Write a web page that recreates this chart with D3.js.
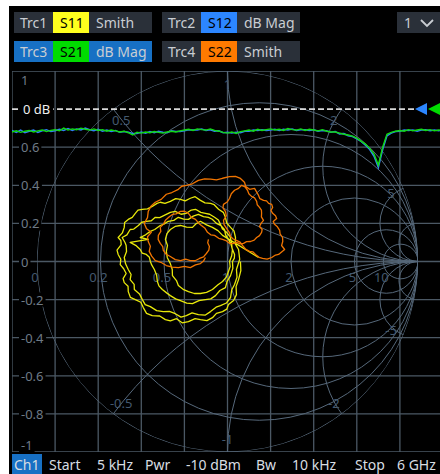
<!DOCTYPE html>
<html><head><meta charset="utf-8">
<script src="https://cdn.jsdelivr.net/npm/d3@7"></script>
<style>
html,body{margin:0;padding:0;background:#fff;overflow:hidden}
svg{display:block}
text{font-family:"Noto Sans",sans-serif}
</style></head><body>
<svg id="c" width="440" height="474"></svg>
<script>
// ---------------- DATA ----------------
const traceNames = ["Trc1", "Trc2", "Trc3", "Trc4"];
const traceParams = ["S11", "S12", "S21", "S22"];
const traceFormats = ["Smith", "dB Mag", "dB Mag", "Smith"];
const channelLabel = "Ch1";
const channelSelector = "1";
const sweepInfo = ["Start", "5 kHz", "Pwr", "-10 dBm", "Bw", "10 kHz", "Stop", "6 GHz"];
const freqStartHz = 5e3, freqStopHz = 6e9;

const gridValues = [1, 0.8, 0.6, 0.4, 0.2, 0, -0.2, -0.4, -0.6, -0.8, -1];
const gridLabels = ["1", "0 dB", "0.6", "0.4", "0.2", "0", "-0.2", "-0.4", "-0.6", "-0.8", "-1"];
const refLevelDb = 0;
const dbDomain = [-9, 1];

const smithResistance = [0, 0.2, 0.5, 1, 2, 5, 10];
const smithResistanceLabels = ["0", "0.2", "0.5", "1", "2", "5", "10"];
const smithReactance = [0.5, 1, 2, 5, 10, -0.5, -1, -2, -5, -10];
const smithReactanceLabeled = [0.5, 1, 2, 5, -5, -2, -1, -0.5];

// S21 / S12 magnitude in dB, 101 points from 5 kHz to 6 GHz
const s21dB = [-0.60,-0.57,-0.61,-0.58,-0.56,-0.60,-0.57,-0.55,-0.59,-0.56,
  -0.54,-0.57,-0.50,-0.55,-0.52,-0.54,-0.50,-0.53,-0.55,-0.52,
  -0.56,-0.54,-0.58,-0.55,-0.57,-0.60,-0.58,-0.62,-0.68,-0.61,
  -0.63,-0.60,-0.62,-0.59,-0.61,-0.63,-0.60,-0.58,-0.60,-0.57,
  -0.55,-0.53,-0.56,-0.52,-0.54,-0.55,-0.52,-0.56,-0.58,-0.61,
  -0.63,-0.60,-0.64,-0.59,-0.57,-0.55,-0.58,-0.53,-0.56,-0.54,
  -0.52,-0.55,-0.53,-0.56,-0.51,-0.54,-0.55,-0.52,-0.56,-0.53,
  -0.55,-0.57,-0.54,-0.58,-0.60,-0.60,-0.63,-0.66,-0.68,-0.71,
  -0.76,-0.84,-0.92,-1.03,-1.18,-1.47,-1.00,-0.66,-0.61,-0.58,
  -0.56,-0.58,-0.54,-0.57,-0.55,-0.53,-0.56,-0.54,-0.57,-0.55,-0.56];
const s12dB = [-0.56,-0.61,-0.55,-0.62,-0.58,-0.55,-0.61,-0.57,-0.54,-0.59,
  -0.57,-0.53,-0.56,-0.51,-0.56,-0.52,-0.55,-0.50,-0.54,-0.57,
  -0.53,-0.58,-0.55,-0.59,-0.56,-0.61,-0.59,-0.61,-0.64,-0.64,
  -0.60,-0.63,-0.59,-0.62,-0.58,-0.61,-0.62,-0.57,-0.59,-0.59,
  -0.57,-0.54,-0.55,-0.55,-0.52,-0.56,-0.54,-0.58,-0.57,-0.62,
  -0.61,-0.63,-0.61,-0.62,-0.58,-0.58,-0.55,-0.56,-0.54,-0.56,
  -0.55,-0.53,-0.56,-0.53,-0.55,-0.52,-0.56,-0.54,-0.54,-0.56,
  -0.54,-0.58,-0.56,-0.57,-0.61,-0.59,-0.65,-0.64,-0.70,-0.72,
  -0.78,-0.85,-0.95,-1.06,-1.24,-1.53,-1.06,-0.70,-0.63,-0.59,
  -0.58,-0.55,-0.56,-0.55,-0.58,-0.55,-0.54,-0.57,-0.55,-0.57,-0.54];

// S11 reflection coefficient [re, im]
const s11Gamma = [
  [0.068,0],[0.070,-0.048],[0.058,-0.095],[0.045,-0.132],[0.047,-0.174],[0.032,-0.205],[0.005,-0.226],[-0.004,-0.250],[-0.026,-0.263],[-0.058,-0.272],[-0.079,-0.295],[-0.108,-0.310],[-0.142,-0.305],[-0.170,-0.300],[-0.205,-0.316],[-0.238,-0.322],[-0.268,-0.300],[-0.300,-0.312],[-0.326,-0.305],[-0.356,-0.286],[-0.395,-0.284],[-0.425,-0.272],[-0.442,-0.242],[-0.455,-0.214],[-0.484,-0.200],[-0.510,-0.188],[-0.521,-0.158],[-0.522,-0.130],[-0.542,-0.111],[-0.548,-0.090],[-0.532,-0.063],[-0.545,-0.038],[-0.563,-0.016],[-0.560,0.012],[-0.574,0.037],[-0.580,0.060],[-0.558,0.089],[-0.560,0.110],[-0.574,0.126],[-0.552,0.150],[-0.542,0.179],[-0.540,0.205],[-0.521,0.221],[-0.500,0.232],[-0.484,0.253],[-0.470,0.270],[-0.447,0.274],[-0.420,0.276],[-0.395,0.289],[-0.370,0.305],[-0.353,0.311],[-0.328,0.305],[-0.300,0.316],[-0.272,0.330],[-0.247,0.326],[-0.222,0.318],[-0.195,0.332],[-0.170,0.340],[-0.142,0.321],[-0.118,0.308],[-0.089,0.305],[-0.070,0.298],[-0.047,0.274],[-0.022,0.258],[-0.011,0.232],[-0.004,0.202],[0.016,0.179],[0.034,0.160],[0.042,0.126],[0.040,0.094],[0.058,0.063],[0.064,0.012],
  [0.047,-0.042],[0.050,-0.082],[0.037,-0.121],[0.022,-0.150],[0.016,-0.189],[-0.006,-0.218],[-0.037,-0.232],[-0.060,-0.240],[-0.089,-0.263],[-0.118,-0.282],[-0.153,-0.279],[-0.186,-0.270],[-0.216,-0.284],[-0.244,-0.292],[-0.274,-0.274],[-0.305,-0.262],[-0.337,-0.263],[-0.372,-0.258],[-0.405,-0.237],[-0.432,-0.226],[-0.447,-0.200],[-0.462,-0.170],[-0.489,-0.147],[-0.490,-0.120],[-0.511,-0.095],[-0.506,-0.068],[-0.521,-0.042],[-0.535,-0.012],[-0.542,0.021],[-0.530,0.052],[-0.532,0.084],[-0.538,0.100],[-0.553,0.126],[-0.528,0.140],[-0.511,0.168],[-0.492,0.170],[-0.468,0.189],[-0.450,0.206],[-0.426,0.211],[-0.400,0.214],[-0.379,0.232],[-0.356,0.230],[-0.332,0.242],[-0.300,0.258],[-0.274,0.263],[-0.244,0.248],[-0.216,0.253],[-0.190,0.270],[-0.168,0.274],[-0.140,0.258],[-0.116,0.253],[-0.094,0.248],[-0.068,0.232],[-0.048,0.218],[-0.037,0.195],[-0.026,0.170],[-0.005,0.153],[0.014,0.130],[0.021,0.100],[0.024,0.070],[0.037,0.037],[0.036,0.018],
  [0.026,0],[0.028,-0.036],[0.016,-0.074],[-0.002,-0.104],[-0.011,-0.137],[-0.040,-0.152],[-0.063,-0.179],[-0.088,-0.196],[-0.116,-0.200],[-0.150,-0.205],[-0.184,-0.221],[-0.214,-0.218],[-0.247,-0.205],[-0.272,-0.196],[-0.300,-0.179],[-0.318,-0.166],[-0.342,-0.147],[-0.360,-0.128],[-0.368,-0.105],[-0.372,-0.072],[-0.384,-0.042],[-0.398,-0.018],[-0.405,0],[-0.410,0.022],[-0.426,0.037],[-0.448,0.044],[-0.458,0.063],[-0.482,0.085],[-0.511,0.100],[-0.416,0.116],[-0.458,0.126],[-0.430,0.140],[-0.405,0.158],[-0.382,0.168],[-0.353,0.189],[-0.334,0.196],[-0.311,0.211],[-0.282,0.216],[-0.258,0.232],[-0.230,0.222],[-0.205,0.221],[-0.180,0.238],[-0.153,0.247],[-0.126,0.236],[-0.100,0.232],[-0.080,0.222],[-0.058,0.200],[-0.034,0.188],[-0.016,0.168],[-0.010,0.140],[0.005,0.116],[0.018,0.092],[0.026,0.063],[0.022,0.030],
  [0.011,0],[0.014,-0.026],[0.005,-0.053],[-0.006,-0.082],[-0.026,-0.105],[-0.050,-0.122],[-0.079,-0.147],[-0.110,-0.162],[-0.142,-0.168],[-0.174,-0.168],[-0.205,-0.158],[-0.230,-0.148],[-0.258,-0.126],[-0.268,-0.100],[-0.289,-0.074],[-0.290,-0.042],[-0.300,-0.011],[-0.316,0.020],[-0.321,0.053],[-0.315,0.084],[-0.326,0.116],[-0.318,0.146],[-0.300,0.168],[-0.275,0.184],[-0.247,0.189],[-0.215,0.180],[-0.184,0.179],[-0.165,0.198],[-0.142,0.211],[-0.110,0.192],[-0.079,0.179],[-0.050,0.162],[-0.026,0.137],[0.163,0.021]
];
// S22 reflection coefficient [re, im]
const s22Gamma = [
  [-0.116,0.021],[-0.126,0.002],[-0.142,-0.011],[-0.168,-0.018],[-0.195,-0.032],[-0.226,-0.026],[-0.258,-0.032],[-0.290,-0.030],[-0.321,-0.021],[-0.350,-0.004],[-0.379,0.005],[-0.398,0.028],[-0.411,0.053],[-0.405,0.080],[-0.416,0.105],[-0.420,0.130],[-0.400,0.153],[-0.425,0.172],[-0.437,0.200],[-0.420,0.230],[-0.416,0.263],[-0.402,0.290],[-0.379,0.311],[-0.348,0.326],[-0.321,0.353],[-0.292,0.362],[-0.258,0.379],[-0.240,0.395],[-0.216,0.400],[-0.184,0.408],[-0.153,0.426],[-0.120,0.434],[-0.089,0.432],[-0.058,0.428],[-0.026,0.437],[0.010,0.446],[0.042,0.447],[0.068,0.436],[0.089,0.416],[0.096,0.394],[0.116,0.379],[0.142,0.384],[0.163,0.347],[0.170,0.330],[0.189,0.321],[0.205,0.318],[0.216,0.305],[0.232,0.300],[0.237,0.284],[0.228,0.268],[0.237,0.253],[0.252,0.240],[0.258,0.226],[0.240,0.210],[0.247,0.195],[0.262,0.182],[0.274,0.163],[0.276,0.145],[0.289,0.126],[0.290,0.105],[0.284,0.084],[0.300,0.063],[0.268,0.037],[0.252,0.034],[0.232,0.021],[0.208,0.012],[0.184,0.016],[0.166,0.022],[0.147,0.037],[0.134,0.050],[0.116,0.053],[0.096,0.064],[0.079,0.084],[0.066,0.102],[0.047,0.111],[0.030,0.118],[0.016,0.132],[0.010,0.152],[-0.005,0.174],[-0.018,0.194],[-0.021,0.216],[-0.006,0.240],[-0.011,0.263],[-0.024,0.282],[-0.021,0.300],[-0.002,0.312],[0.011,0.332],[0.020,0.356],[0.037,0.374],[0.058,0.384],[0.074,0.400],[0.092,0.392],[0.105,0.374],[0.112,0.356],[0.126,0.342],[0.142,0.334],[0.153,0.316],[0.156,0.298],[0.168,0.284],[0.178,0.270],[0.179,0.253],[0.178,0.234],[0.189,0.216],[0.176,0.200],[0.168,0.184],[0.182,0.168],[0.179,0.153],[0.168,0.136],[0.153,0.126],[0.140,0.112],[0.121,0.105],[0.100,0.104],[0.084,0.095],[0.066,0.092],[0.047,0.100],[0.028,0.094],[0.011,0.095],[-0.008,0.110],[-0.026,0.116],[-0.046,0.122],[-0.068,0.137],[-0.088,0.140],[-0.105,0.153],[-0.118,0.174],[-0.137,0.189],[-0.150,0.200],[-0.168,0.221],[-0.190,0.232],[-0.205,0.253],[-0.226,0.264],[-0.247,0.263],[-0.270,0.250],[-0.289,0.247],[-0.304,0.236],[-0.326,0.216],[-0.336,0.196],[-0.353,0.179],[-0.350,0.158],[-0.363,0.137],[-0.364,0.116],[-0.353,0.095],[-0.340,0.078],[-0.337,0.058],[-0.322,0.038],[-0.300,0.026],[-0.274,0.010],[-0.247,0.005],[-0.220,0.012],[-0.195,0.005],[-0.170,0.004],[-0.147,0.016],[-0.126,0.024],[-0.111,0.042],[-0.098,0.060],[-0.095,0.079],[-0.104,0.098],[-0.100,0.116]
];

// ---------------- STYLE / LAYOUT ----------------
const colors = { S11: "#ffff1e", S12: "#2c86ff", S21: "#00dc00", S22: "#ff7a00" };
const traceLine = { S11: "#e8e80a", S12: "#2f7ff5", S21: "#12d812", S22: "#f07400" };
const plot = { left: 12, right: 443, top: 71, bottom: 452 };
const gridColor = "#4b5864", smithColor = "#56687a";

const svg = d3.select("#c");
svg.append("rect").attr("x", 9).attr("y", 6).attr("width", 440).attr("height", 474).attr("fill", "#000");

// ---- header tags
const tagCols = [14, 162], tagRows = [12, 41], tagW = [39, 36, 63], tagH = 21;
traceNames.forEach((name, i) => {
  const x0 = tagCols[i % 2], y0 = tagRows[Math.floor(i / 2)];
  const active = i === 2;
  const bg = active ? "#1770c4" : "#2a3039";
  const g = svg.append("g");
  g.append("rect").attr("x", x0).attr("y", y0).attr("width", tagW[0]).attr("height", tagH).attr("fill", bg);
  g.append("rect").attr("x", x0 + tagW[0]).attr("y", y0).attr("width", tagW[1]).attr("height", tagH).attr("fill", colors[traceParams[i]]);
  g.append("rect").attr("x", x0 + tagW[0] + tagW[1]).attr("y", y0).attr("width", tagW[2]).attr("height", tagH).attr("fill", bg);
  g.append("text").attr("x", x0 + 6).attr("y", y0 + 16).attr("font-size", 14).attr("fill", "#c9cdd2").text(name);
  g.append("text").attr("x", x0 + tagW[0] + 7).attr("y", y0 + 16).attr("font-size", 14).attr("fill", "#000").text(traceParams[i]);
  g.append("text").attr("x", x0 + tagW[0] + tagW[1] + 7).attr("y", y0 + 16).attr("font-size", 14).attr("fill", "#c9cdd2").text(traceFormats[i]);
});
svg.append("rect").attr("x", 397).attr("y", 12).attr("width", 50).attr("height", tagH).attr("fill", "#2a3039");
svg.append("text").attr("x", 404).attr("y", 28).attr("font-size", 14).attr("fill", "#c9cdd2").text(channelSelector);
svg.append("path").attr("d", "M421,20 L427,26 L433,20").attr("fill", "none").attr("stroke", "#c9cdd2").attr("stroke-width", 1.8);

// ---- scales
const yGrid = d3.scaleLinear().domain([-1, 1]).range([plot.bottom, plot.top]);
const xFreq = d3.scaleLinear().domain([freqStartHz, freqStopHz]).range([plot.left, plot.right]);
const yDb = d3.scaleLinear().domain(dbDomain).range([plot.bottom, plot.top]);
const R = (plot.bottom - plot.top) / 2, cx = (plot.left + plot.right) / 2, cy = (plot.top + plot.bottom) / 2;
const gx = d3.scaleLinear().domain([-1, 1]).range([cx - R, cx + R]);
const gy = d3.scaleLinear().domain([-1, 1]).range([cy + R, cy - R]);

const defs = svg.append("defs");
defs.append("clipPath").attr("id", "plotClip").append("rect")
  .attr("x", plot.left).attr("y", plot.top).attr("width", plot.right - plot.left).attr("height", plot.bottom - plot.top);
defs.append("clipPath").attr("id", "unitClip").append("circle")
  .attr("cx", gx(0)).attr("cy", gy(0)).attr("r", gx(1) - gx(0));

const P = svg.append("g").attr("clip-path", "url(#plotClip)");

// ---- rectangular grid
const fTicks = d3.range(11).map(k => freqStartHz + k * (freqStopHz - freqStartHz) / 10);
P.selectAll("line.v").data(fTicks).join("line")
  .attr("x1", d => xFreq(d)).attr("x2", d => xFreq(d)).attr("y1", plot.top).attr("y2", plot.bottom)
  .attr("stroke", gridColor).attr("stroke-width", 1.3);
P.selectAll("line.h").data(gridValues.filter(v => v !== 0.8)).join("line")
  .attr("x1", plot.left).attr("x2", plot.right).attr("y1", d => yGrid(d)).attr("y2", d => yGrid(d))
  .attr("stroke", gridColor).attr("stroke-width", 1.3);

// ---- smith grid
const S = P.append("g").attr("clip-path", "url(#unitClip)");
S.selectAll("circle.r").data(smithResistance).join("circle")
  .attr("cx", r => gx(r / (1 + r))).attr("cy", gy(0))
  .attr("r", r => gx(1 / (1 + r)) - gx(0))
  .attr("fill", "none").attr("stroke", smithColor).attr("stroke-width", 1);
S.selectAll("circle.x").data(smithReactance).join("circle")
  .attr("cx", gx(1)).attr("cy", x => gy(1 / x))
  .attr("r", x => gx(1 / Math.abs(x)) - gx(0))
  .attr("fill", "none").attr("stroke", smithColor).attr("stroke-width", 1);

// smith labels
const smithLabelColor = "#44596f";
P.selectAll("text.rl").data(smithResistance).join("text")
  .attr("x", r => gx((r - 1) / (r + 1)) - 2).attr("y", gy(0) + 20)
  .attr("text-anchor", "middle").attr("font-size", 13).attr("fill", smithLabelColor)
  .text((r, i) => smithResistanceLabels[i]);
P.selectAll("text.xl").data(smithReactanceLabeled).join("text")
  .attr("x", x => gx(0.93 * (x * x - 1) / (x * x + 1)))
  .attr("y", x => gy(0.93 * 2 * x / (x * x + 1)) + 5)
  .attr("text-anchor", "middle").attr("font-size", 13).attr("fill", smithLabelColor)
  .text(x => String(x));

// ---- y labels with dark background
gridValues.forEach((v, i) => {
  if (v === 0.8) return;
  let yy = yGrid(v);
  if (v === 1) yy += 9; if (v === -1) yy -= 7;
  const t = P.append("text").attr("x", 21).attr("y", yy + 5).attr("font-size", 13).attr("fill", "#6e7a86").text(gridLabels[i]);
  const bb = t.node().getBBox();
  P.insert("rect", () => t.node()).attr("x", bb.x - 2).attr("y", bb.y + 2).attr("width", bb.width + 4).attr("height", bb.height - 4).attr("fill", "#000");
});

// ---- reference line 0 dB
P.append("line").attr("x1", plot.left).attr("x2", 414).attr("y1", yDb(refLevelDb)).attr("y2", yDb(refLevelDb))
  .attr("stroke", "#d8d8d8").attr("stroke-width", 1.6).attr("stroke-dasharray", "6,3");
{
  const t = P.append("text").attr("x", 23).attr("y", yDb(refLevelDb) + 5).attr("font-size", 13).attr("fill", "#f0f0f0").text(gridLabels[1]);
  const bb = t.node().getBBox();
  P.insert("rect", () => t.node()).attr("x", bb.x - 3).attr("y", bb.y + 1).attr("width", bb.width + 6).attr("height", bb.height - 2).attr("fill", "#000");
}
// reference markers
const yr = yDb(refLevelDb);
svg.append("path").attr("d", `M415,${yr} L427,${yr - 6} L427,${yr + 6} Z`).attr("fill", colors.S12);
svg.append("path").attr("d", `M428,${yr} L442,${yr - 7} L442,${yr + 7} Z`).attr("fill", colors.S21);

// ---- dB traces
const freqs = d3.range(s21dB.length).map(k => freqStartHz + k * (freqStopHz - freqStartHz) / (s21dB.length - 1));
const dbLine = d3.line().x((d, k) => xFreq(freqs[k])).y(d => yDb(d));
P.append("path").datum(s12dB).attr("d", dbLine).attr("fill", "none").attr("stroke", traceLine.S12).attr("stroke-width", 1.5);
P.append("path").datum(s21dB).attr("d", dbLine).attr("fill", "none").attr("stroke", traceLine.S21).attr("stroke-width", 1.4);

// ---- smith traces
const gLine = d3.line().x(d => gx(d[0])).y(d => gy(d[1]));
P.append("path").datum(s11Gamma).attr("d", gLine).attr("fill", "none").attr("stroke", traceLine.S11).attr("stroke-width", 1.3).attr("stroke-linejoin", "round");
P.append("path").datum(s22Gamma).attr("d", gLine).attr("fill", "none").attr("stroke", traceLine.S22).attr("stroke-width", 1.3).attr("stroke-linejoin", "round");

// ---- bottom bar
svg.append("rect").attr("x", 12).attr("y", 454).attr("width", 30).attr("height", 20).attr("fill", "#1770c4");
svg.append("text").attr("x", 14).attr("y", 470).attr("font-size", 14).attr("fill", "#d8dde2").text(channelLabel);
const infoX = [49, 97, 145, 186, 256, 292, 355, 397];
svg.selectAll("text.info").data(sweepInfo).join("text")
  .attr("x", (d, i) => infoX[i]).attr("y", 470).attr("font-size", 14).attr("fill", "#d8dde2").text(d => d);
</script>
</body></html>
